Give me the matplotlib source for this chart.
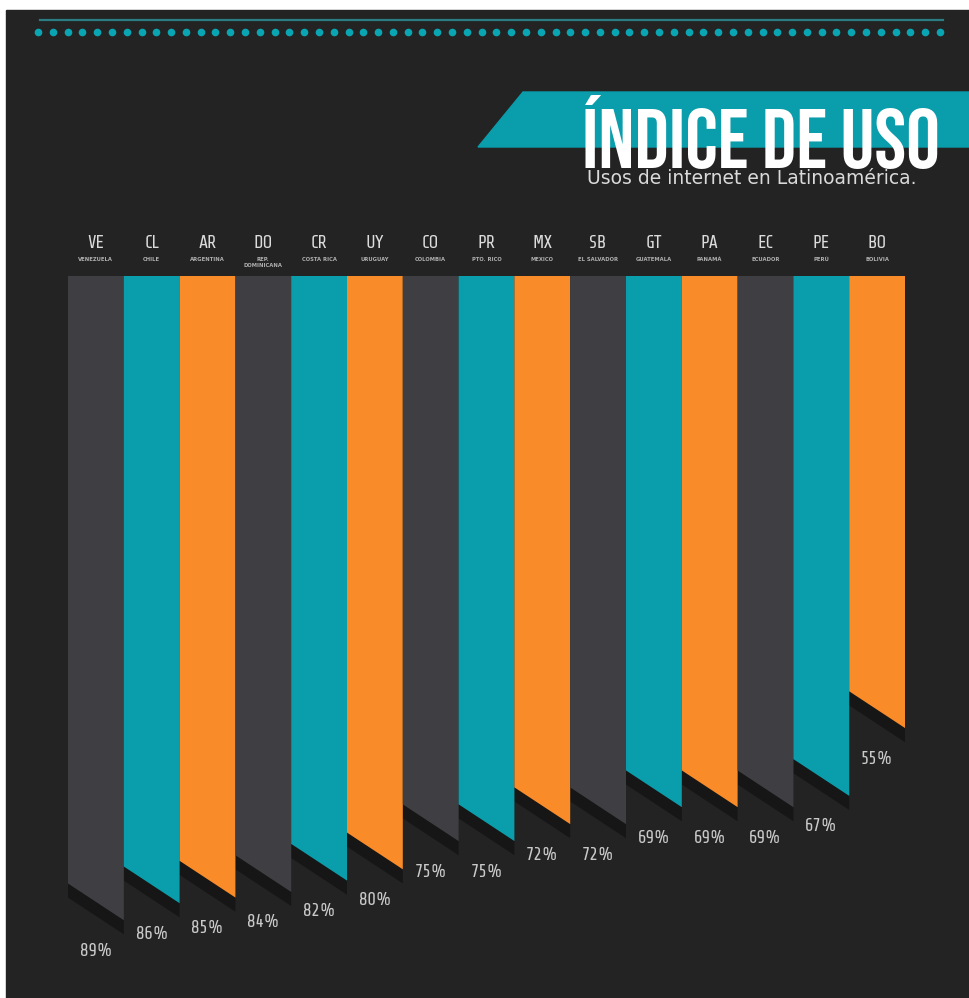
import numpy as np
import matplotlib
matplotlib.use("Agg")
import matplotlib.pyplot as plt
from matplotlib.patches import Polygon, Rectangle
from matplotlib.lines import Line2D

# data
codes = ["VE", "CL", "AR", "DO", "CR", "UY", "CO", "PR", "MX", "SB", "GT", "PA", "EC", "PE", "BO"]
names = ["VENEZUELA", "CHILE", "ARGENTINA", "REP.\nDOMINICANA", "COSTA RICA", "URUGUAY",
         "COLOMBIA", "PTO. RICO", "MEXICO", "EL SALVADOR", "GUATEMALA", "PANAMÁ",
         "ECUADOR", "PERÚ", "BOLIVIA"]
usage = [89, 86, 85, 84, 82, 80, 75, 75, 72, 72, 69, 69, 69, 67, 55]

palette = ["#3f3e43", "#0a9dab", "#f98b28"]
bg = "#232323"
title_font = ["Bebas Neue", "Oswald", "DejaVu Sans"]
code_font = ["Share Tech", "DejaVu Sans"]

W, H = 969, 998
fig = plt.figure(figsize=(W / 100, H / 100), dpi=100, facecolor="white")

# dark panel with white frame at top / left
fig.patches.append(Rectangle((6 / W, 0), 1 - 6 / W, 1 - 10 / H, transform=fig.transFigure,
                             color=bg, zorder=-5))

# top decoration: thin line + row of dots
fig.add_artist(Line2D([40 / W, 943 / W], [1 - 20 / H] * 2, color="#2b7c83", lw=1.6))
dots_x = np.linspace(38, 940, 62) / W
fig.add_artist(Line2D(dots_x, [1 - 32 / H] * len(dots_x), ls="none", marker="o",
                      ms=5.5, color="#0aa5b2", mec="none"))

# title banner
fig.patches.append(Polygon([(478 / W, 1 - 147 / H), (523 / W, 1 - 92 / H), (1, 1 - 92 / H),
                            (1, 1 - 147 / H)], closed=True, transform=fig.transFigure,
                           color="#0a9dab", zorder=1))
fig.text(940 / W, 1 - 168 / H, "ÍNDICE DE USO", ha="right", va="baseline", fontsize=61,
         family=title_font, color="white", zorder=2)
fig.text(587 / W, 1 - 179 / H, "Usos de internet en Latinoamérica.", ha="left", va="center",
         fontsize=13.5, color="#dadada", zorder=2)

# bars
ax = fig.add_axes([68 / W, (H - 971) / H, 837 / W, 695 / H])
ax.set_xlim(-0.5, 14.5)
ax.set_ylim(98, -25)
ax.axis("off")

base = -25
slant = 6.5
for i, (code, name, v) in enumerate(zip(codes, names, usage)):
    x0, x1 = i - 0.5, i + 0.5
    col = palette[i % 3]
    # shadow under the cut
    ax.fill([x0, x1, x1, x0], [v - slant, v, v + 2.5, v - slant + 2.5],
            color="#161616", lw=0, zorder=1)
    ax.fill([x0, x1, x1, x0], [base, base, v, v - slant], color=col, lw=0, zorder=2)

    ax.annotate(f"{v}%", xy=(i, v), xytext=(0, -22), textcoords="offset points",
                ha="center", va="center", fontsize=13, family=code_font, color="#c9c9c9")
    ax.annotate(code, xy=(i, 1), xycoords=ax.get_xaxis_transform(), xytext=(0, 23.5),
                textcoords="offset points", ha="center", va="center", fontsize=13,
                family=code_font, color="#dcdcdc")
    ax.annotate(name, xy=(i, 1), xycoords=ax.get_xaxis_transform(), xytext=(0, 13.5),
                textcoords="offset points", ha="center", va="top", fontsize=3.8,
                fontweight="bold", color="#b0b0b0", linespacing=1.3)

plt.savefig("out.png", dpi=100, facecolor=fig.get_facecolor())
